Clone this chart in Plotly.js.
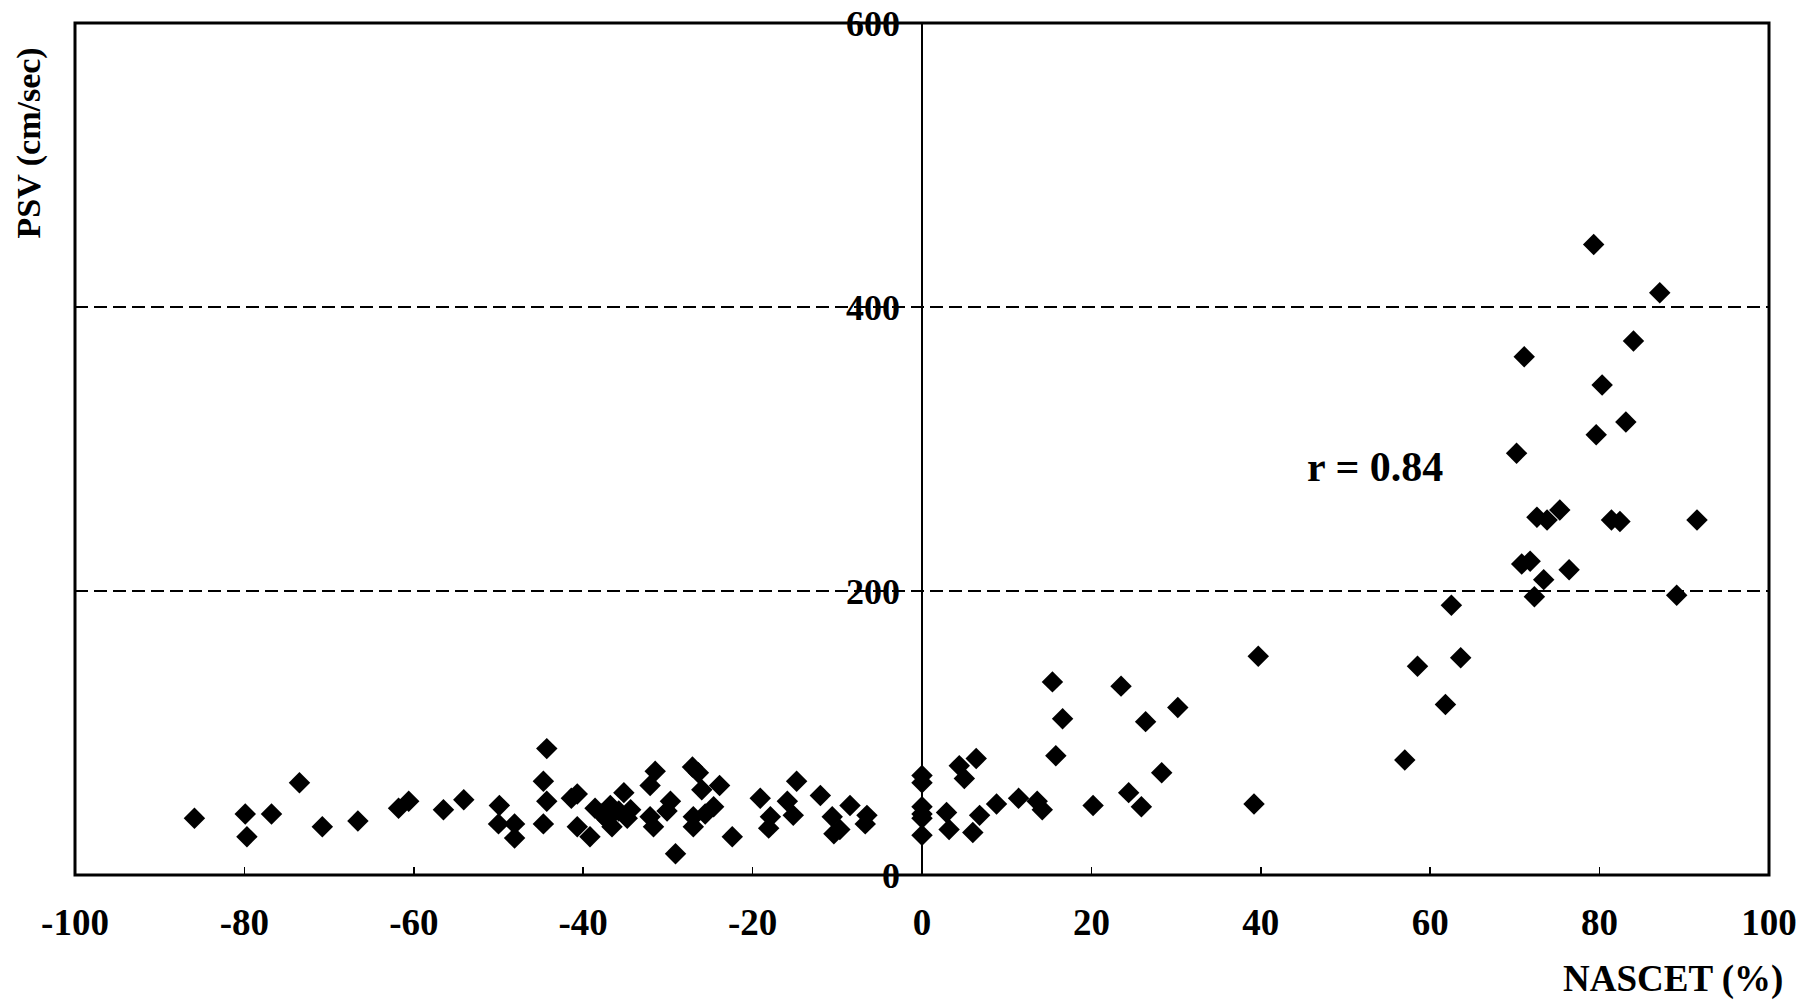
<!DOCTYPE html>
<html>
<head>
<meta charset="utf-8">
<script src="https://cdn.plot.ly/plotly-3.0.1.min.js"></script>
<style>
  html, body { margin: 0; padding: 0; background: #ffffff; }
  #chart { width: 1800px; height: 1002px; }
</style>
</head>
<body>
<div id="chart"></div>
<script>
// NASCET stenosis (%)
const nascet = [
  -85.9, -79.9, -79.7, -76.8, -73.5, -70.8, -66.6, -61.8, -60.6, -56.5, -54.1,
  -49.9, -50.0, -48.1, -48.1,
  -44.7, -44.7, -44.3, -44.3,
  -40.7, -41.4, -40.7, -39.2,
  -38.6, -37.8, -36.8, -36.6, -35.8, -35.2, -34.8, -34.4, -37.2,
  -31.5, -32.1, -29.7, -30.1, -32.1, -31.7, -29.1,
  -27.1, -26.4, -26.0, -23.9, -24.6, -25.6, -27.0, -27.0, -22.4,
  -19.1, -17.9, -18.1, -15.9, -15.2, -14.8, -12.0, -10.6, -10.4, -9.7, -8.5, -6.5, -6.7,
  0, 0, 0, 0, 0, 0,
  2.9, 3.2, 4.4, 5.0, 6.4, 6.8, 6.0, 8.8, 11.4, 13.6, 14.2, 15.4, 16.6, 15.8,
  20.2, 23.5, 26.4, 30.2, 28.3, 24.4, 25.9, 39.7, 39.2,
  57.0, 58.5, 61.8, 62.5, 63.6,
  70.2, 71.1, 72.3, 70.8, 71.8, 72.6, 73.4, 73.8, 75.3, 76.4,
  79.3, 79.6, 80.3, 81.4, 82.4, 83.1, 84.0, 87.1, 89.1, 91.5
];
// Peak systolic velocity (cm/sec)
const psv = [
  40, 43, 27, 43, 65, 34, 38, 47, 52, 46, 53,
  49, 36, 36, 26,
  36, 66, 52, 89,
  57, 54, 34, 27,
  47, 43, 49, 34, 45, 58, 40, 46, 39,
  73, 63, 52, 45, 41, 34, 15,
  76, 72, 60, 63, 48, 43, 34, 41, 27,
  54, 41, 33, 52, 42, 66, 56, 41, 29, 32, 49, 42, 36,
  70, 65, 48, 43, 40, 28,
  44, 32, 77, 68, 82, 42, 30, 50, 54, 52, 46, 136, 110, 84,
  49, 133, 108, 118, 72, 58, 48, 154, 50,
  81, 147, 120, 190, 153,
  297, 365, 196, 219, 221, 252, 208, 250, 257, 215,
  444, 310, 345, 250, 249, 319, 376, 410, 197, 250
];

const xTicks = [-100, -80, -60, -40, -20, 0, 20, 40, 60, 80, 100];
const xTickText = ["-100", "-80", "-60", "-40", "-20", "0", "20", "40", "60", "80", "100"];
const yTicks = [0, 200, 400, 600];
const yTickText = ["0", "200", "400", "600"];

const xTitle = "NASCET (%)";
const yTitle = "PSV (cm/sec)";
const rLabel = "r = 0.84";

const serif = "'Liberation Serif', 'Times New Roman', Times, serif";

const trace = {
  type: "scatter",
  mode: "markers",
  x: nascet,
  y: psv,
  marker: { symbol: "diamond", size: 16.5, color: "#000000", line: { width: 0 } },
  hoverinfo: "x+y"
};

const layout = {
  width: 1800,
  height: 1002,
  margin: { l: 75, r: 31, t: 23, b: 127, pad: 0 },
  paper_bgcolor: "#ffffff",
  plot_bgcolor: "#ffffff",
  showlegend: false,
  xaxis: {
    range: [-100, 100],
    tickmode: "array",
    tickvals: xTicks,
    ticktext: xTickText,
    ticks: "inside",
    ticklen: 8,
    tickwidth: 1.5,
    tickcolor: "#000000",
    showgrid: false,
    zeroline: true,
    zerolinecolor: "#000000",
    zerolinewidth: 1.5,
    showline: false,
    ticklabelstandoff: 22,
    tickfont: { family: serif, size: 37, color: "#000000", weight: "bold" },
    fixedrange: true
  },
  yaxis: {
    range: [0, 600],
    anchor: "free",
    position: 0.5,
    side: "left",
    tickmode: "array",
    tickvals: yTicks,
    ticktext: yTickText,
    ticks: "",
    showline: false,
    zeroline: false,
    showgrid: true,
    gridcolor: "#000000",
    gridwidth: 1.2,
    griddash: "13px,6px",
    ticklabelstandoff: 22,
    tickfont: { family: serif, size: 36, color: "#000000", weight: "bold" },
    fixedrange: true
  },
  shapes: [
    {
      type: "rect", xref: "paper", yref: "paper",
      x0: 0, x1: 1, y0: 0, y1: 1,
      line: { color: "#000000", width: 3 },
      fillcolor: "rgba(0,0,0,0)",
      layer: "above"
    }
  ],
  annotations: [
    {
      text: yTitle, xref: "paper", yref: "paper",
      x: -0.027, y: 0.859, xanchor: "center", yanchor: "middle",
      textangle: -90, showarrow: false,
      font: { family: serif, size: 34, color: "#000000", weight: "bold" }
    },
    {
      text: xTitle, xref: "paper", yref: "paper",
      x: 1.0095, y: -0.122, xanchor: "right", yanchor: "middle",
      showarrow: false,
      font: { family: serif, size: 37, color: "#000000", weight: "bold" }
    },
    {
      text: rLabel, xref: "x", yref: "y",
      x: 45.2, y: 287, xanchor: "left", yanchor: "middle",
      showarrow: false,
      font: { family: serif, size: 42, color: "#000000", weight: "bold" }
    }
  ]
};

Plotly.newPlot("chart", [trace], layout, { displayModeBar: false, staticPlot: true });
</script>
</body>
</html>
